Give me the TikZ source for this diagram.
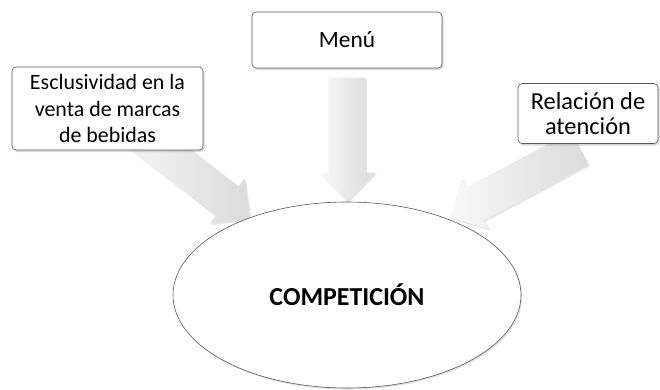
\documentclass[tikz,border=0pt]{standalone}
\usepackage{fontspec}
\setmainfont{Carlito}
\usetikzlibrary{calc,positioning,shapes.geometric,shapes.arrows,shadows,backgrounds}
\tikzset{
    topic/.style = {
        draw = black!65,
        fill = white,
        line width = 0.6bp,
        rounded corners = 4bp,
        align = center,
        inner sep = 0pt,
        drop shadow = {opacity=0.3, shadow xshift=1.5bp, shadow yshift=-2bp},
        },
    goal/.style = {
        ellipse,
        draw = black!65,
        fill = white,
        line width = 0.6bp,
        minimum width = 348bp,
        minimum height = 186bp,
        font = \fontsize{26}{30}\selectfont\bfseries,
        drop shadow = {opacity=0.25, shadow xshift=1.2bp, shadow yshift=-1.5bp},
        },
    fat arrow/.style = {
        single arrow,
        draw = none,
        inner xsep = 0pt,
        inner ysep = 18.5bp,
        single arrow head extend = 10bp,
        left color = gray!5,
        right color = gray!28,
        drop shadow = {opacity=0.2, shadow xshift=1.5bp, shadow yshift=-1.5bp},
        },
}
\begin{document}
\begin{tikzpicture}[x=1bp, y=-1bp]
    \useasboundingbox (0,0) rectangle (660,389);

    \node [goal] (comp) at (347,295) {COMPETICIÓN};

    \node [topic, minimum width=190bp, minimum height=56bp, font=\fontsize{23.5}{28}\selectfont]
        (menu) at (347,40) {Menú};
    \node [topic, minimum width=191bp, minimum height=83bp, font=\fontsize{22}{27}\selectfont]
        (excl) at (107.5,108.5) {Esclusividad en la\\venta de marcas\\de bebidas};
    \node [topic, minimum width=140bp, minimum height=60bp, font=\fontsize{24.5}{24.5}\selectfont]
        (rel) at (588,113.5) {Relación de\\atención};

    % arrow tips in front of the ellipse
    \coordinate (tmenu) at (347,192);
    \coordinate (texcl) at (242.5,213);
    \coordinate (trel) at (458,213);

    \begin{pgfonlayer}{background}
        \foreach \from/\to in {menu.south/tmenu, excl.center/texcl, rel.south/trel}
            \path let \p1 = ($(\to)-(\from)$), \n1 = {atan2(\y1,\x1)}, \n2 = {veclen(\x1,\y1)} in
                node [fat arrow, rotate=\n1, minimum height=\n2] at ($(\from)!0.5!(\to)$) {};
    \end{pgfonlayer}
\end{tikzpicture}
\end{document}
